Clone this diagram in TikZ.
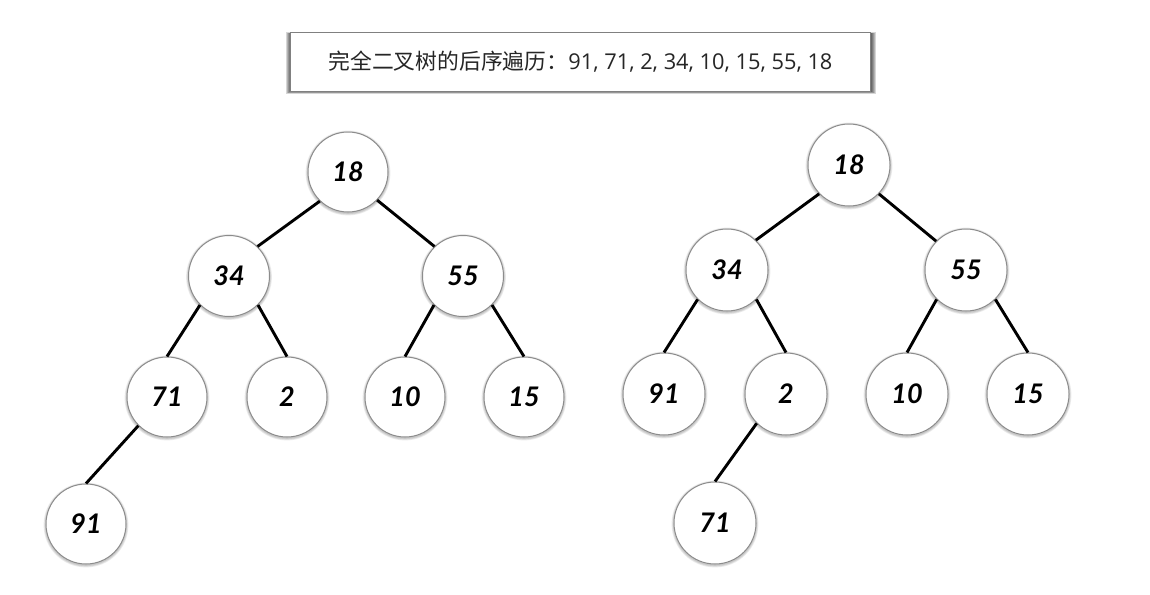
\documentclass[tikz,border=0pt]{standalone}
\usepackage{fontspec}
\setmainfont{Open Sans}
\newfontfamily\cjkfont{Noto Sans CJK SC}
\newfontfamily\handfont[Scale=1.0]{Lato}
\tikzset{
  treenode/.style={circle,draw=black!45,line width=1pt,fill=white,inner sep=0pt,text=black,
    font=\handfont\bfseries\itshape\fontsize{27}{27}\selectfont},
  edgeline/.style={draw=black,line width=2.9pt},
  titlebox/.style={rectangle,draw=black!50,line width=1pt,fill=white,inner sep=0pt,
    minimum width=580pt,minimum height=59pt,text=black!85}
}
\newcommand{\softdisc}[3]{%
  \foreach \d in {1,2,3}{\fill[black,opacity=0.08] (#1,#2+1) circle[radius=#3+\d*0.8];}%
}
\newcommand{\tnode}[5]{%
  \softdisc{#2}{#3}{#4}%
  \node[treenode,minimum size=#4*2pt] (#1) at (#2,#3) {#5};%
}
\begin{document}
\begin{tikzpicture}[x=1pt,y=-1pt]
\useasboundingbox (0,0) rectangle (1150,594);
\fill[white] (0,0) rectangle (1150,594);
% title box shadow
\foreach \d in {1,2,3,4,5}{\fill[black,opacity=0.16] (290.5-\d,33-\d*0.1) rectangle (870.5+\d,91.5+\d*0.4);}
\node[titlebox] (title) at (580.5,62) {{\cjkfont\fontsize{21.8}{24}\selectfont 完全二叉树的后序遍历：}{\fontsize{21.8}{24}\selectfont 91, 71, 2, 34, 10, 15, 55, 18}};
% left tree
\tnode{la}{348}{172}{40}{18}
\tnode{lb}{229}{276}{40.5}{34}
\tnode{lc}{463}{276}{40.5}{55}
\tnode{ld}{167}{397}{40}{71}
\tnode{le}{287}{397}{40}{2}
\tnode{lf}{405}{397}{40}{10}
\tnode{lg}{524}{397}{40}{15}
\tnode{lh}{86}{524}{40}{91}
% right tree
\tnode{ra}{849}{165}{41}{18}
\tnode{rb}{727}{270}{41}{34}
\tnode{rc}{966}{270}{41}{55}
\tnode{rd}{664}{394}{41}{91}
\tnode{re}{786}{394}{41}{2}
\tnode{rf}{907}{394}{41}{10}
\tnode{rg}{1028}{394}{41}{15}
\tnode{rh}{715}{523}{41}{71}
% connectors
\foreach \a/\b in {la.226/lb.46,la.-44/lc.134,lb.225/ld.90,lb.-45/le.90,lc.225/lf.90,lc.-45/lg.90,ld.225/lh.90,
  ra.224/rb.46,ra.-44/rc.136,rb.225/rd.90,rb.-45/re.90,rc.225/rf.90,rc.-45/rg.90,re.225/rh.90}{
  \draw[edgeline] (\a) -- (\b);
}
\end{tikzpicture}
\end{document}
